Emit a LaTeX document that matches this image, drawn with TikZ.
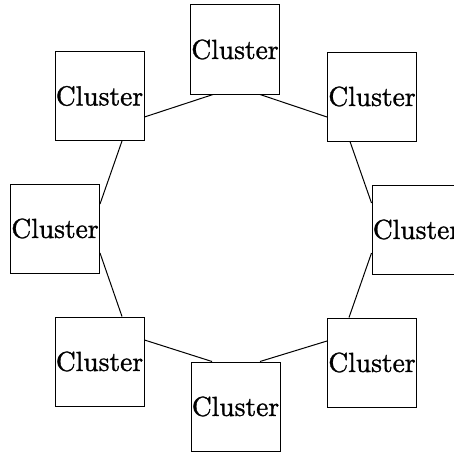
\documentclass[tikz,border=0pt]{standalone}
\usepackage{fontspec}
\newfontfamily\clfont{lmroman10-regular}[Extension=.otf, FakeBold=1.2]
\usetikzlibrary{calc}
\tikzset{
  cluster/.style={draw, line width=1pt, minimum width=89pt, minimum height=89pt,
    inner sep=0pt, font=\clfont\fontsize{27.5}{30}\selectfont},
  link/.style={line width=1pt}
}
\begin{document}
\begin{tikzpicture}[x=1pt, y=-1pt]
  \useasboundingbox (0,0) rectangle (454,452);
  \clip (0,0) rectangle (454,452);
  % eight clusters around a ring
  \node[cluster] (T)  at (235,49.5)   {Cluster};
  \node[cluster] (TR) at (372,96.5)   {Cluster};
  \node[cluster] (R)  at (416.5,229.5){Cluster};
  \node[cluster] (BR) at (372,362.5)  {Cluster};
  \node[cluster] (B)  at (235.5,406.5){Cluster};
  \node[cluster] (BL) at (99.5,361.5) {Cluster};
  \node[cluster] (L)  at (55,228.5)   {Cluster};
  \node[cluster] (TL) at (99.5,96)    {Cluster};
  % ring links
  \draw[link] ($(T.south)+(-22,0)$)  -- ($(TL.east)+(0,21)$);
  \draw[link] ($(TL.south)+(22.5,0)$) -- ($(L.east)+(0,-24.5)$);
  \draw[link] ($(L.east)+(0,24.5)$)  -- ($(BL.north)+(22.5,0)$);
  \draw[link] ($(BL.east)+(0,-21.5)$) -- ($(B.north)+(-23.5,0)$);
  \draw[link] ($(B.north)+(24.5,0)$) -- ($(BR.west)+(0,-21.5)$);
  \draw[link] ($(BR.north)+(-23,0)$) -- ($(R.west)+(0,23.5)$);
  \draw[link] ($(R.west)+(0,-26.5)$) -- ($(TR.south)+(-22,0)$);
  \draw[link] ($(TR.west)+(0,20.5)$) -- ($(T.south)+(25,0)$);
\end{tikzpicture}
\end{document}
